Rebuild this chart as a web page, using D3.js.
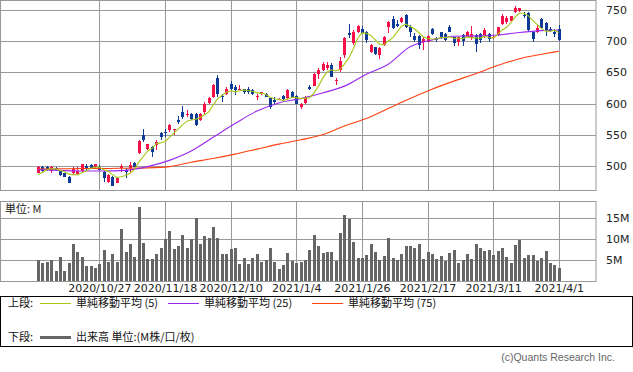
<html><head><meta charset="utf-8"><title>株価チャート</title>
<style>
    body { margin: 0; padding: 0; background: #fff; }
    svg { display: block; font-family: 'DejaVu Sans', 'Noto Sans CJK JP', sans-serif; }
    .jp { font-family: 'Noto Sans CJK JP', sans-serif; }
</style>
</head>
<body>
<svg id="chart" width="633" height="372"></svg>

<script src="https://cdnjs.cloudflare.com/ajax/libs/d3/7.8.5/d3.min.js"></script>
<script>
// --- data ---
const open = [489,499,499,492,496,492,488,483,488,487, 492,500,502,498,499,491,475,483,473,496,
    493,496,505,521,550,527,531,533,553,555, 558,558,574,587,582,584,584,573,587,601,
    610,641,612,616,631,627,622,623,624,622, 610,615,616,609,606,606,612,609,619,612,
    594,601,626,629,647,654,657,662,636,654, 678,713,697,715,719,715,682,690,678,694,
    723,735,728,731,742,723,708,708,698,699, 719,705,714,712,722,706,699,710,707,705,
    710,711,707,712,705,710,728,730,733,747, 748,742,745,714,714,735,729,719,715,720];
const high = [500,500,500,500,499,493,489,484,499,499, 504,504,504,504,501,492,487,484,481,504,
    496,507,506,541,559,536,532,542,554,560, 568,560,580,596,590,585,585,585,603,610,
    631,646,616,627,636,630,630,624,626,623, 615,619,617,610,610,609,613,623,620,613,
    601,612,630,649,657,666,667,665,641,674, 706,728,718,726,724,716,696,691,690,708,
    733,740,734,739,744,726,713,710,707,710, 721,707,715,713,726,707,707,711,716,724,
    712,713,721,713,708,723,744,740,741,757, 754,747,746,715,726,737,730,723,719,726];
const low = [488,491,492,488,492,484,482,473,486,485, 491,494,495,497,493,475,473,468,472,491,
    480,491,498,520,539,526,514,526,542,547, 555,550,568,576,579,574,564,572,584,600,
    609,611,603,614,621,614,621,615,615,614, 605,614,610,592,600,605,606,608,610,599,
    592,600,621,628,640,652,654,642,630,651, 673,705,694,713,711,697,681,678,671,692,
    713,720,723,729,721,707,699,687,686,698, 710,699,703,701,714,693,693,693,706,702,
    683,697,705,699,703,709,726,728,732,745, 746,737,717,698,713,719,708,715,707,701];
const close = [499,492,494,499,494,486,483,473,495,492, 503,496,496,503,494,480,486,468,480,500,
    490,502,499,540,542,535,523,539,546,554, 566,559,571,579,584,576,565,584,600,609,
    630,615,611,624,623,621,624,618,619,615, 612,618,611,595,603,608,607,622,611,600,
    600,611,623,648,654,664,662,643,638,668, 705,710,715,724,713,702,694,680,689,706,
    731,721,724,737,723,714,702,694,703,708, 711,702,706,702,715,697,706,701,714,711,
    695,702,718,703,707,722,740,737,740,754, 753,740,718,703,721,721,718,717,711,702];
// volume in millions
const volume = [5.0,4.3,4.6,5.0,2.4,5.8,2.4,4.3,8.8,7.0, 5.8,3.5,3.5,3.2,4.0,7.4,4.6,6.4,4.6,12.4,
    7.0,8.8,5.8,17.8,9.2,5.2,5.2,6.4,7.9,10.0, 12.0,7.6,8.4,11.0,7.9,10.0,15.0,8.8,10.8,10.4,
    13.0,10.2,6.4,6.4,7.6,7.9,4.0,5.6,4.0,5.5, 6.4,4.6,5.0,8.0,4.6,2.8,3.8,6.7,4.8,4.3,
    4.6,5.0,7.4,11.0,8.4,6.7,6.9,6.9,4.8,11.6, 15.8,14.8,9.4,5.6,5.4,6.2,8.8,6.9,5.0,5.9,
    10.3,5.4,5.0,6.4,8.4,8.4,8.0,8.8,5.2,6.9, 6.4,5.2,5.9,4.8,6.7,7.4,4.3,5.0,6.4,5.2,
    8.8,7.8,7.2,7.4,6.2,7.1,7.8,5.8,4.3,8.6, 9.8,5.4,6.2,6.2,4.8,5.4,7.1,4.3,3.8,3.0];
// simple moving averages
const ma5 = [486,490,494,496,495.6,493,491.2,487,486.2,485.8, 489.2,491.8,496.4,498,498.4,493.8,491.8,486.2,481.6,482.8,
    484.8,488,494.2,506.2,514.6,523.6,527.8,535.8,537,539.4, 545.6,552.8,559.2,565.8,571.8,573.8,575,577.6,581.8,586.8,
    597.6,607.6,613,617.8,620.6,618.8,620.6,622,621,619.4, 617.6,616.4,615,610.2,607.8,607,604.8,607,610.2,609.6,
    608,608.8,609,616.4,627.2,640,650.2,654.2,652.2,655, 663.2,672.8,687.2,704.4,713.4,712.8,709.6,702.6,695.6,694.2,
    700,705.4,714.2,723.8,727.2,723.8,720,714,707.2,704.2, 703.6,703.6,706,705.8,707.2,704.4,705.2,704.2,706.6,705.8,
    705.4,704.6,708,705.8,705,710.4,718,721.8,729.2,738.6, 744.8,744.8,741,733.6,727,720.6,716.2,716,717.6,713.8];
const maDays = [0,5,10,15,20,25,30,35,40,45,50,55,60,65,70,75,80,85,90,95,100,105,110,115,119];
const ma25 = [494,493,492,492,493,499,509,524,546,568,588,601,608,617,628,647,663,691,702,708,708.5,710,714,717,718];
const ma75 = [495,495.5,496,496,496.5,497,499,506,512,519,527,535,542,550,564,576,592,608,623,636,648,661,672,679,684];

const dateDays = [14, 29, 44, 59, 74, 89, 104, 119];
const dateLabels = ["2020/10/27","2020/11/18","2020/12/10","2021/1/4","2021/1/26","2021/2/17","2021/3/11","2021/4/1"];
const priceTicks = [500, 550, 600, 650, 700, 750];
const volTicks = [5, 10, 15];
const volTickLabels = ["5M", "10M", "15M"];

// --- layout ---
const plotW = 596;
const upper = {top: 0, bottom: 190};
const lower = {top: 201, bottom: 281};
const gridColor = "#999";
const upColor = "#f5104a", downColor = "#0c3a96";

const svg = d3.select("#chart");

const x = d3.scaleLinear().domain([-8.7, 127.5]).range([0, plotW]);
const y = d3.scaleLinear().domain([500, 750]).range([166, 10]);
const yv = d3.scaleLinear().domain([0, 15]).range([281, 218.3]);
const px = v => Math.round(v) + 0.5;

// panel grids
function grid(top, bottom, hTicks, scale) {
    const g = svg.append("g");
    g.selectAll(".h").data(hTicks).enter().append("line")
        .attr("x1", 0).attr("x2", plotW)
        .attr("y1", d => px(scale(d))).attr("y2", d => px(scale(d)))
        .attr("stroke", gridColor);
    g.selectAll(".v").data(dateDays).enter().append("line")
        .attr("x1", d => px(x(d))).attr("x2", d => px(x(d)))
        .attr("y1", top).attr("y2", bottom)
        .attr("stroke", gridColor);
    g.append("rect")
        .attr("x", 0.5).attr("y", top + 0.5)
        .attr("width", plotW - 0.5).attr("height", bottom - top)
        .attr("fill", "none").attr("stroke", gridColor);
}
grid(upper.top, upper.bottom, priceTicks, y);
grid(lower.top, lower.bottom, volTicks, yv);

// candles
const candles = svg.append("g").selectAll("g").data(open).enter().append("g")
    .attr("fill", (d, i) => close[i] >= open[i] ? upColor : downColor)
    .attr("stroke", (d, i) => close[i] >= open[i] ? upColor : downColor);
candles.append("line")
    .attr("x1", (d, i) => px(x(i))).attr("x2", (d, i) => px(x(i)))
    .attr("y1", (d, i) => Math.round(y(high[i]))).attr("y2", (d, i) => Math.round(y(low[i])))
    .attr("stroke-width", 1);
candles.append("rect")
    .attr("x", (d, i) => Math.round(x(i)) - 1)
    .attr("y", (d, i) => Math.round(y(Math.max(open[i], close[i]))))
    .attr("width", 3)
    .attr("height", (d, i) => Math.max(1, Math.round(y(Math.min(open[i], close[i]))) - Math.round(y(Math.max(open[i], close[i])))))
    .attr("stroke", "none");

// moving average lines
const lineFull = d3.line().x((d, i) => x(i)).y(d => y(d));
const lineSparse = d3.line().x((d, i) => x(maDays[i])).y(d => y(d)).curve(d3.curveMonotoneX);
svg.append("path").datum(ma75).attr("d", lineSparse)
    .attr("fill", "none").attr("stroke", "#ff4010").attr("stroke-width", 1.1);
svg.append("path").datum(ma25).attr("d", lineSparse)
    .attr("fill", "none").attr("stroke", "#9a28f0").attr("stroke-width", 1.1);
svg.append("path").datum(ma5).attr("d", lineFull)
    .attr("fill", "none").attr("stroke", "#a4c814").attr("stroke-width", 1.1);

// volume bars
svg.append("g").selectAll("rect").data(volume).enter().append("rect")
    .attr("x", (d, i) => Math.round(x(i)) - 1)
    .attr("y", d => Math.round(yv(d)))
    .attr("width", 3)
    .attr("height", d => 281 - Math.round(yv(d)))
    .attr("fill", "#666");

// axes
const axisStyle = g => {
    g.select(".domain").remove();
    g.selectAll("text").attr("fill", "#222").style("font-size", "11px")
        .style("font-family", "'DejaVu Sans', sans-serif");
};
svg.append("g").attr("transform", `translate(${plotW},0)`)
    .call(d3.axisRight(y).tickValues(priceTicks).tickSize(0).tickPadding(10))
    .call(axisStyle);
svg.append("g").attr("transform", `translate(${plotW},0)`)
    .call(d3.axisRight(yv).tickValues(volTicks).tickSize(0).tickPadding(10)
        .tickFormat((d, i) => volTickLabels[i]))
    .call(axisStyle);
svg.append("g").attr("transform", `translate(0,${lower.bottom})`)
    .call(d3.axisBottom(x).tickValues(dateDays).tickSize(0).tickPadding(3)
        .tickFormat((d, i) => dateLabels[i]))
    .call(axisStyle);

svg.append("text").attr("class", "jp").attr("x", 5).attr("y", 213)
    .attr("font-size", 11).attr("fill", "#222").text("単位: M");

// legend
svg.append("rect").attr("x", 0.5).attr("y", 296.5).attr("width", 632).attr("height", 50)
    .attr("fill", "none").attr("stroke", "#000");
const legendRows = [
    {label: "上段:", y: 303, items: [
        {x: 40, color: "#a4c814", w: 1, text: "単純移動平均 (5)"},
        {x: 168, color: "#9a28f0", w: 1, text: "単純移動平均 (25)"},
        {x: 312, color: "#ff4010", w: 1, text: "単純移動平均 (75)"}]},
    {label: "下段:", y: 337, items: [
        {x: 40, color: "#666", w: 3, text: "出来高 単位:(M株/口/枚)"}]}
];
legendRows.forEach(r => {
    svg.append("text").attr("class", "jp").attr("x", 8).attr("y", r.y).attr("dy", "0.35em")
        .attr("font-size", 11).attr("fill", "#111").text(r.label);
    r.items.forEach(it => {
        svg.append("line").attr("x1", it.x).attr("x2", it.x + 31)
            .attr("y1", r.y + 0.5).attr("y2", r.y + 0.5)
            .attr("stroke", it.color).attr("stroke-width", it.w);
        svg.append("text").attr("class", "jp").attr("x", it.x + 36).attr("y", r.y).attr("dy", "0.35em")
            .attr("font-size", 11).attr("fill", "#111").text(it.text);
    });
});

svg.append("text").attr("x", 615).attr("y", 361).attr("text-anchor", "end")
    .attr("font-size", 10.5).attr("fill", "#666").style("font-family", "'Liberation Sans', sans-serif")
    .text("(c)Quants Research Inc.");
</script>
</body>
</html>
